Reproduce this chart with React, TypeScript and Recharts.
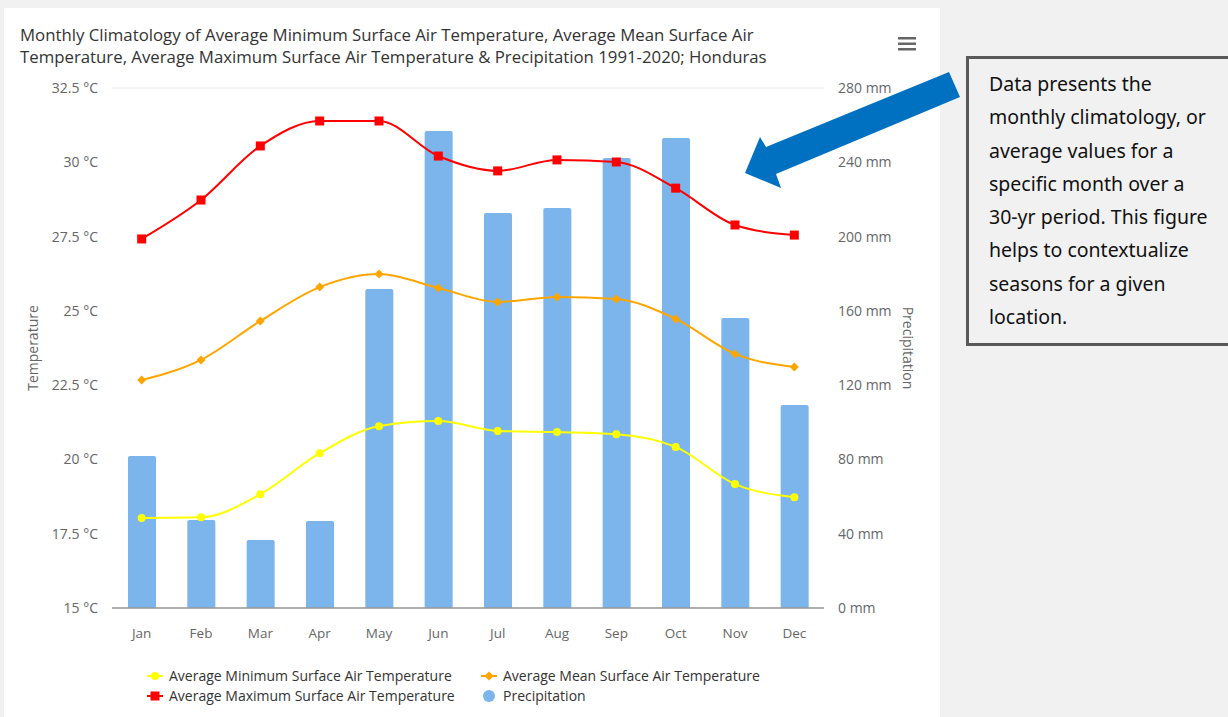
import React from 'react';
import { ComposedChart, Bar, Line, XAxis, YAxis, CartesianGrid } from 'recharts';

const months = ['Jan', 'Feb', 'Mar', 'Apr', 'May', 'Jun', 'Jul', 'Aug', 'Sep', 'Oct', 'Nov', 'Dec'];
const minTemp = [18.03, 18.05, 18.83, 20.21, 21.12, 21.29, 20.96, 20.92, 20.85, 20.42, 19.17, 18.73];
const meanTemp = [22.67, 23.35, 24.66, 25.8, 26.24, 25.77, 25.3, 25.47, 25.4, 24.73, 23.55, 23.11];
const maxTemp = [27.42, 28.73, 30.55, 31.39, 31.39, 30.21, 29.71, 30.08, 30.01, 29.13, 27.89, 27.55];
const precip = [81.9, 47.4, 36.6, 46.8, 171.8, 256.9, 212.7, 215.4, 242.3, 253.1, 156.2, 109.3];

const tempTicks = [15, 17.5, 20, 22.5, 25, 27.5, 30, 32.5];
const precipTicks = [0, 40, 80, 120, 160, 200, 240, 280];

const title1 = 'Monthly Climatology of Average Minimum Surface Air Temperature, Average Mean Surface Air';
const title2 = 'Temperature, Average Maximum Surface Air Temperature & Precipitation 1991-2020; Honduras';
const noteLines = [
  'Data presents the',
  'monthly climatology, or',
  'average values for a',
  'specific month over a',
  '30-yr period. This figure',
  'helps to contextualize',
  'seasons for a given',
  'location.',
];

const seriesNames = {
  min: 'Average Minimum Surface Air Temperature',
  mean: 'Average Mean Surface Air Temperature',
  max: 'Average Maximum Surface Air Temperature',
  precip: 'Precipitation',
};

const data = months.map((m, i) => ({
  month: m,
  min: minTemp[i],
  mean: meanTemp[i],
  max: maxTemp[i],
  precip: precip[i],
}));

const FONT = '"Open Sans", "Noto Sans", sans-serif';
const COLORS = { min: '#ffff00', mean: '#ffa500', max: '#ff0000', precip: '#7cb5ec' };

const CircleDot = (props: any) => {
  const { cx, cy, index } = props;
  if (cx == null || cy == null) return <g key={index} />;
  return <circle key={index} cx={cx} cy={cy} r={4} fill={COLORS.min} />;
};
const DiamondDot = (props: any) => {
  const { cx, cy, index } = props;
  if (cx == null || cy == null) return <g key={index} />;
  const s = 4.5;
  return (
    <path key={index} d={`M${cx},${cy - s}L${cx + s},${cy}L${cx},${cy + s}L${cx - s},${cy}Z`} fill={COLORS.mean} />
  );
};
const SquareDot = (props: any) => {
  const { cx, cy, index } = props;
  if (cx == null || cy == null) return <g key={index} />;
  return <rect key={index} x={cx - 4.5} y={cy - 4.5} width={9} height={9} fill={COLORS.max} />;
};

const LegendMarker = ({ kind }: { kind: 'min' | 'mean' | 'max' | 'precip' }) => {
  return (
    <svg width={18} height={14} style={{ display: 'block' }}>
      {kind !== 'precip' && <line x1={1} y1={7} x2={17} y2={7} stroke={COLORS[kind]} strokeWidth={2} />}
      {kind === 'min' && <circle cx={9} cy={7} r={4} fill={COLORS.min} />}
      {kind === 'mean' && <path d="M9,2.5L13.5,7L9,11.5L4.5,7Z" fill={COLORS.mean} />}
      {kind === 'max' && <rect x={4.5} y={2.5} width={9} height={9} fill={COLORS.max} />}
      {kind === 'precip' && <circle cx={9} cy={7} r={6} fill={COLORS.precip} />}
    </svg>
  );
};

const LegendItem = ({ kind, left, top }: { kind: 'min' | 'mean' | 'max' | 'precip'; left: number; top: number }) => (
  <div
    style={{
      position: 'absolute',
      left,
      top,
      display: 'flex',
      alignItems: 'center',
      gap: 5,
      fontFamily: FONT,
      fontSize: 14,
      color: '#333',
      whiteSpace: 'nowrap',
    }}
  >
    <LegendMarker kind={kind} />
    <span>{seriesNames[kind]}</span>
  </div>
);

export default function App() {
  return (
    <div
      style={{
        position: 'fixed',
        left: 0,
        top: 0,
        width: 1228,
        height: 717,
        background: '#f1f1f1',
        overflow: 'hidden',
      }}
    >
      <div style={{ position: 'absolute', left: 4, top: 8, width: 936, height: 709, background: '#ffffff' }} />
      <div
        style={{
          position: 'absolute',
          left: 20,
          top: 24,
          fontFamily: FONT,
          fontSize: 16.8,
          lineHeight: '21.5px',
          color: '#333',
          whiteSpace: 'nowrap',
        }}
      >
        <div>{title1}</div>
        <div>{title2}</div>
      </div>
      <svg style={{ position: 'absolute', left: 898, top: 36 }} width={20} height={16}>
        <rect x={0} y={1} width={18} height={2.5} fill="#666" />
        <rect x={0} y={6.5} width={18} height={2.5} fill="#666" />
        <rect x={0} y={12} width={18} height={2.5} fill="#666" />
      </svg>
      <div style={{ position: 'absolute', left: 0, top: 0 }}>
        <ComposedChart
          width={940}
          height={717}
          data={data}
          margin={{ top: 88, right: 16, bottom: 79, left: 12 }}
          style={{ fontFamily: FONT }}
        >
          <CartesianGrid vertical={false} stroke="#e6e6e6" strokeWidth={1} />
          <XAxis
            dataKey="month"
            height={30}
            tickLine={false}
            tickSize={0}
            tickMargin={20}
            axisLine={{ stroke: '#999', strokeWidth: 1.5 }}
            tick={{ fontSize: 13.5, fill: '#666' }}
            interval={0}
          />
          <YAxis
            yAxisId="left"
            orientation="left"
            width={100}
            domain={[15, 32.5]}
            ticks={tempTicks}
            tickFormatter={(v: number) => `${v} °C`}
            axisLine={false}
            tickLine={false}
            tickSize={0}
            tickMargin={14}
            tick={{ fontSize: 14, fill: '#666' }}
            label={{ value: 'Temperature', angle: -90, position: 'center', dx: -29, fontSize: 14, fill: '#666' }}
          />
          <YAxis
            yAxisId="right"
            orientation="right"
            width={100}
            domain={[0, 280]}
            ticks={precipTicks}
            tickFormatter={(v: number) => `${v} mm`}
            axisLine={false}
            tickLine={false}
            tickSize={0}
            tickMargin={14}
            tick={{ fontSize: 14, fill: '#666' }}
            label={{ value: 'Precipitation', angle: 90, position: 'center', dx: 34, fontSize: 14, fill: '#666' }}
          />
          <Bar yAxisId="right" dataKey="precip" name={seriesNames.precip} fill={COLORS.precip} barSize={28} radius={[2, 2, 0, 0]} isAnimationActive={false} />
          <Line yAxisId="left" type="monotone" dataKey="min" name={seriesNames.min} stroke={COLORS.min} strokeWidth={2} dot={CircleDot} activeDot={false} isAnimationActive={false} />
          <Line yAxisId="left" type="monotone" dataKey="mean" name={seriesNames.mean} stroke={COLORS.mean} strokeWidth={2} dot={DiamondDot} activeDot={false} isAnimationActive={false} />
          <Line yAxisId="left" type="monotone" dataKey="max" name={seriesNames.max} stroke={COLORS.max} strokeWidth={2} dot={SquareDot} activeDot={false} isAnimationActive={false} />
        </ComposedChart>
      </div>
      <LegendItem kind="min" left={146} top={666} />
      <LegendItem kind="mean" left={480} top={666} />
      <LegendItem kind="max" left={146} top={686} />
      <LegendItem kind="precip" left={480} top={686} />
      <svg style={{ position: 'absolute', left: 0, top: 0 }} width={1228} height={717}>
        <polygon
          points="745,173 760,137 766,147 949,72 960,97 776,174 781,188"
          fill="#0070c0"
        />
        <rect x={967.5} y={57.5} width={270} height={287} fill="#f1f1f1" stroke="#595959" strokeWidth={3} />
      </svg>
      <div
        style={{
          position: 'absolute',
          left: 989,
          top: 67,
          fontFamily: '"Noto Sans", sans-serif',
          fontSize: 19.5,
          lineHeight: '33.3px',
          color: '#111',
          whiteSpace: 'nowrap',
        }}
      >
        {noteLines.map((l, i) => (
          <div key={i}>{l}</div>
        ))}
      </div>
    </div>
  );
}
